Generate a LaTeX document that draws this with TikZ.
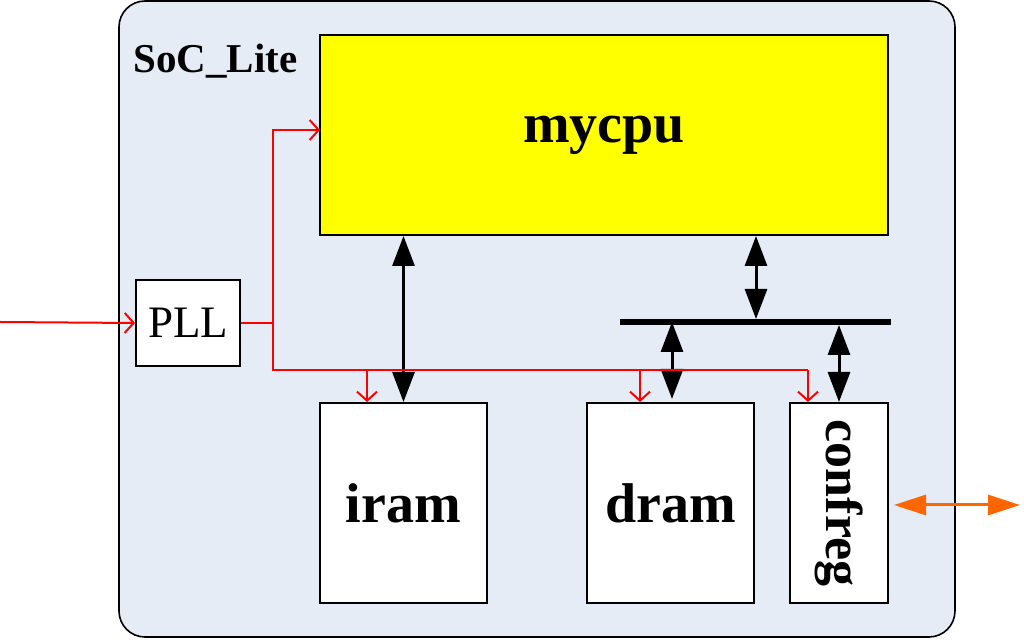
\documentclass[tikz,border=0pt]{standalone}
\usepackage{fontspec}
\setmainfont{Liberation Serif}
\usetikzlibrary{arrows.meta,calc}
\definecolor{SocFill}{HTML}{E5ECF6}
\definecolor{CpuYellow}{RGB}{255,255,0}
\definecolor{IoOrange}{HTML}{FF6600}

\begin{document}
\begin{tikzpicture}[
    x=0.5pt, y=-0.5pt,
    every node/.style={font=\bfseries\fontsize{28}{30}\selectfont},
    block/.style={draw, line width=1pt, fill=white, inner sep=0pt},
    busarrow/.style={line width=1.5pt, {Triangle[length=15pt,width=11pt]}-{Triangle[length=15pt,width=11pt]}},
    clk/.style={red, line width=1pt, -{Straight Barb[length=4.5pt,width=10pt]}},
    clkline/.style={red, line width=1pt},
    io/.style={IoOrange, line width=1.5pt, {Triangle[length=16pt,width=10pt]}-{Triangle[length=16pt,width=10pt]}},
]
\useasboundingbox (0,0) rectangle (1024,640);
\draw[fill=SocFill, line width=0.8pt, rounded corners=13pt] (119,1) rectangle (955,637);
\node[anchor=base west, inner sep=0pt, font=\bfseries\fontsize{20.5}{22}\selectfont] (title) at (133,73) {SoC\_Lite};

% blocks
\node[block, fill=CpuYellow, minimum width=284pt, minimum height=100pt] (mycpu) at (604,135) {mycpu};
\node[block, font=\fontsize{22.5}{24}\selectfont, minimum width=52pt, minimum height=43pt] (pll) at (188,323) {PLL};
\node[block, minimum width=83.5pt, minimum height=100pt] (iram) at (403.5,503) {iram};
\node[block, minimum width=83.5pt, minimum height=100pt] (dram) at (670.5,503) {dram};
\node[block, minimum width=49pt, minimum height=100pt] (confreg) at (839,503) {};
\node[rotate=-90, font=\bfseries\fontsize{26}{28}\selectfont] (confregtxt) at (confreg) {confreg};

% bus
\coordinate (busL) at (620,322);
\coordinate (busR) at (891,322);
\coordinate (cpubus) at (756,319);
\draw[line width=3pt] (busL) -- (busR);
\draw[busarrow] (iram.north) -- (iram.north |- mycpu.south);
\draw[busarrow] (cpubus |- mycpu.south) -- (cpubus);
\draw[busarrow, shorten <=1.5pt] (dram.north -| 672,0) -- (672,0 |- busL);
\draw[busarrow, shorten >=1.5pt] (confreg.north) -- (confreg.north |- busL);

% clock
\coordinate (clkin) at (0,322);
\coordinate (clkv) at (273,370);
\coordinate (cpuclk) at (320,130);
\coordinate (clkend) at (808,370);
\draw[clk] (clkin) -- (pll.west);
\draw[clk] (pll.east) -| (clkv |- cpuclk) -- (cpuclk);
\draw[clkline] (pll.east -| clkv) -- (clkv) -- (clkend);
\foreach \blk/\xx in {iram/367, dram/640, confreg/808}
    \draw[clk] (\xx,0 |- clkv) -- (\xx,0 |- \blk.north);

% external io
\coordinate (ioext) at (1020,505);
\draw[io, shorten <=2.5pt] (confreg.east |- ioext) -- (ioext);
\end{tikzpicture}
\end{document}
